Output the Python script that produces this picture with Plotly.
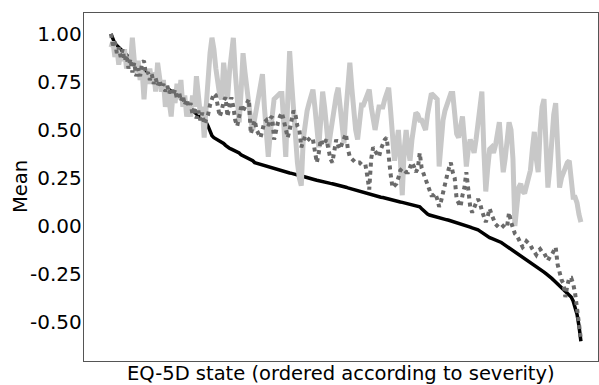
import plotly.graph_objects as go

# EQ-5D states ordered by severity (index 1..243)
states = list(range(1, 244))

black_mean = [
    1.00, 0.97, 0.95, 0.94, 0.93, 0.92, 0.91, 0.90, 0.89, 0.88,
    0.87, 0.86, 0.85, 0.84, 0.83, 0.82, 0.81, 0.80, 0.79, 0.78,
    0.775, 0.77, 0.76, 0.755, 0.75, 0.74, 0.735, 0.73, 0.72, 0.715,
    0.71, 0.70, 0.695, 0.69, 0.68, 0.675, 0.67, 0.66, 0.65, 0.64,
    0.63, 0.62, 0.60, 0.59, 0.58, 0.575, 0.57, 0.56, 0.55, 0.54,
    0.52, 0.49, 0.47, 0.46, 0.455, 0.45, 0.445, 0.44, 0.43, 0.42,
    0.41, 0.405, 0.40, 0.395, 0.39, 0.385, 0.38, 0.37, 0.365, 0.36,
    0.355, 0.35, 0.345, 0.34, 0.33, 0.327, 0.324, 0.32, 0.316, 0.312,
    0.31, 0.306, 0.302, 0.30, 0.298, 0.295, 0.292, 0.29, 0.286, 0.283,
    0.28, 0.278, 0.276, 0.274, 0.272, 0.27, 0.267, 0.264, 0.261, 0.258,
    0.255, 0.253, 0.25, 0.247, 0.244, 0.241, 0.238, 0.235, 0.233, 0.23,
    0.228, 0.226, 0.224, 0.222, 0.22, 0.218, 0.216, 0.214, 0.212, 0.21,
    0.206, 0.202, 0.198, 0.195, 0.191, 0.188, 0.185, 0.182, 0.179, 0.176,
    0.173, 0.171, 0.168, 0.166, 0.163, 0.16, 0.158, 0.155, 0.152, 0.15,
    0.148, 0.145, 0.143, 0.14, 0.138, 0.135, 0.133, 0.13, 0.128, 0.125,
    0.123, 0.12, 0.118, 0.115, 0.113, 0.11, 0.108, 0.105, 0.103, 0.10,
    0.09, 0.08, 0.07, 0.062, 0.057, 0.054, 0.051, 0.048, 0.044, 0.04,
    0.038, 0.036, 0.034, 0.032, 0.03, 0.027, 0.025, 0.022, 0.019, 0.016,
    0.013, 0.01, 0.006, 0.002, -0.002, -0.006, -0.01, -0.013, -0.017, -0.02,
    -0.027, -0.034, -0.042, -0.05, -0.057, -0.061, -0.065, -0.069, -0.073, -0.077,
    -0.08, -0.086, -0.093, -0.1, -0.106, -0.112, -0.118, -0.124, -0.13, -0.138,
    -0.145, -0.152, -0.16, -0.168, -0.176, -0.183, -0.19, -0.197, -0.204, -0.212,
    -0.219, -0.226, -0.233, -0.24, -0.248, -0.255, -0.264, -0.273, -0.283, -0.292,
    -0.302, -0.311, -0.32, -0.33, -0.34, -0.35, -0.36, -0.37, -0.39, -0.42,
    -0.46, -0.52, -0.60,
]

dark_mean = [
    1.0, 0.94, 0.96, 0.90, 0.93, 0.88, 0.92, 0.86, 0.89, 0.82,
    0.87, 0.80, 0.85, 0.78, 0.82, 0.78, 0.85, 0.86, 0.79, 0.80,
    0.76, 0.79, 0.74, 0.77, 0.73, 0.76, 0.72, 0.74, 0.70, 0.73,
    0.69, 0.72, 0.68, 0.71, 0.66, 0.70, 0.65, 0.68, 0.63, 0.66,
    0.62, 0.64, 0.58, 0.62, 0.56, 0.60, 0.55, 0.59, 0.53, 0.56,
    0.58, 0.63, 0.66, 0.69, 0.68, 0.62, 0.57, 0.60, 0.65, 0.67,
    0.57, 0.62, 0.67, 0.62, 0.55, 0.52, 0.58, 0.62, 0.60, 0.62,
    0.64, 0.66, 0.48, 0.52, 0.55, 0.50, 0.48, 0.46, 0.50, 0.54,
    0.55, 0.52, 0.56, 0.57, 0.45, 0.50, 0.54, 0.57, 0.59, 0.55,
    0.50, 0.46, 0.50, 0.55, 0.60, 0.58, 0.52, 0.50, 0.41, 0.44,
    0.47, 0.46, 0.45, 0.44, 0.45, 0.40, 0.33, 0.38, 0.45, 0.42,
    0.44, 0.45, 0.40, 0.35, 0.33, 0.38, 0.45, 0.42, 0.40, 0.43,
    0.46, 0.48, 0.40, 0.36, 0.35, 0.34, 0.33, 0.33, 0.33, 0.32,
    0.32, 0.32, 0.26, 0.19, 0.35, 0.41, 0.39, 0.37, 0.36, 0.40,
    0.43, 0.45, 0.46, 0.35, 0.27, 0.20, 0.21, 0.22, 0.25, 0.29,
    0.30, 0.29, 0.28, 0.28, 0.30, 0.33, 0.31, 0.28, 0.30, 0.38,
    0.30, 0.27, 0.24, 0.22, 0.19, 0.16, 0.16, 0.17, 0.14, 0.10,
    0.13, 0.18, 0.22, 0.26, 0.30, 0.33, 0.28, 0.25, 0.14, 0.12,
    0.10, 0.16, 0.20, 0.28, 0.17, 0.10, 0.07, 0.10, 0.12, 0.14,
    0.12, 0.08, 0.05, 0.02, 0.05, 0.09, 0.06, 0.03, 0.01, 0.00,
    -0.01, -0.01, 0.00, 0.01, 0.00, 0.07, 0.02, -0.02, -0.04, -0.05,
    -0.07, -0.09, -0.11, -0.10, -0.08, -0.09, -0.10, -0.12, -0.14, -0.15,
    -0.13, -0.12, -0.135, -0.14, -0.16, -0.18, -0.16, -0.15, -0.13, -0.11,
    -0.20, -0.25, -0.28, -0.30, -0.37, -0.31, -0.27, -0.27, -0.30, -0.35,
    -0.44, -0.52, -0.59,
]

light_mean = [
    0.93, 0.96, 0.88, 0.93, 0.84, 0.90, 0.86, 0.92, 0.82, 0.88,
    0.84, 0.98, 0.86, 0.80, 0.86, 0.76, 0.82, 0.66, 0.80, 0.74,
    0.82, 0.74, 0.80, 0.70, 0.85, 0.78, 0.70, 0.76, 0.62, 0.72,
    0.64, 0.57, 0.70, 0.64, 0.74, 0.66, 0.76, 0.62, 0.68, 0.57,
    0.64, 0.57, 0.68, 0.62, 0.78, 0.70, 0.58, 0.62, 0.46, 0.62,
    0.80, 0.90, 0.98, 0.92, 0.82, 0.74, 0.68, 0.66, 0.85, 0.76,
    0.66, 0.80, 0.90, 0.98, 0.80, 0.66, 0.54, 0.70, 0.90, 0.80,
    0.70, 0.62, 0.55, 0.50, 0.56, 0.62, 0.68, 0.74, 0.79, 0.62,
    0.48, 0.36, 0.48, 0.58, 0.66, 0.67, 0.68, 0.69, 0.69, 0.52,
    0.36, 0.65, 0.91, 0.75, 0.60, 0.46, 0.33, 0.25, 0.21, 0.45,
    0.55, 0.60, 0.64, 0.68, 0.71, 0.62, 0.52, 0.41, 0.55, 0.70,
    0.62, 0.50, 0.41, 0.48, 0.56, 0.62, 0.68, 0.72, 0.60, 0.50,
    0.43, 0.60, 0.75, 0.85, 0.72, 0.60, 0.50, 0.45, 0.55, 0.63,
    0.63, 0.66, 0.70, 0.71, 0.62, 0.55, 0.50, 0.56, 0.62, 0.62,
    0.62, 0.66, 0.70, 0.72, 0.60, 0.47, 0.34, 0.42, 0.50, 0.35,
    0.16, 0.40, 0.50, 0.40, 0.34, 0.45, 0.55, 0.59, 0.58, 0.55,
    0.55, 0.52, 0.50, 0.58, 0.64, 0.69, 0.68, 0.67, 0.66, 0.31,
    0.45, 0.55, 0.60, 0.63, 0.66, 0.69, 0.69, 0.58, 0.48, 0.46,
    0.52, 0.57, 0.45, 0.31, 0.40, 0.45, 0.42, 0.38, 0.45, 0.55,
    0.65, 0.70, 0.40, 0.18, 0.30, 0.40, 0.41, 0.38, 0.42, 0.48,
    0.54, 0.40, 0.28, 0.35, 0.45, 0.54, 0.50, 0.35, 0.00, 0.10,
    0.20, 0.22, 0.18, 0.17, 0.22, 0.27, 0.29, 0.40, 0.49, 0.35,
    0.28, 0.50, 0.62, 0.66, 0.40, 0.20, 0.30, 0.45, 0.58, 0.64,
    0.45, 0.20, 0.25, 0.28, 0.30, 0.33, 0.34, 0.25, 0.15, 0.15,
    0.12, 0.06, 0.02,
]

y_tick_vals = [1.0, 0.75, 0.5, 0.25, 0.0, -0.25, -0.5]
y_tick_text = ["1.00", "0.75", "0.50", "0.25", "0.00", "-0.25", "-0.50"]

x_title = "EQ-5D state (ordered according to severity)"
y_title = "Mean"

FONT = "DejaVu Sans, Liberation Sans, Arial, sans-serif"

fig = go.Figure()
fig.add_trace(go.Scatter(x=states, y=black_mean, mode="lines",
                         line=dict(color="#000000", width=3.5), hoverinfo="skip"))
fig.add_trace(go.Scatter(x=states, y=light_mean, mode="lines",
                         line=dict(color="#c8c8c8", width=5), hoverinfo="skip"))
fig.add_trace(go.Scatter(x=states, y=dark_mean, mode="lines",
                         line=dict(color="#6a6a6a", width=4, dash="dot"), hoverinfo="skip"))

fig.update_layout(
    width=599, height=385,
    margin=dict(l=84, r=1, t=13, b=24),
    paper_bgcolor="white", plot_bgcolor="white",
    showlegend=False,
    font=dict(family=FONT, color="#000000"),
    annotations=[
        dict(text=x_title, xref="paper", yref="paper", x=0.5, y=-0.035,
             xanchor="center", yanchor="middle", showarrow=False,
             font=dict(size=19.5)),
        dict(text=y_title, xref="paper", yref="paper", x=-0.1245, y=0.5,
             xanchor="center", yanchor="middle", showarrow=False,
             textangle=-90, font=dict(size=19.5)),
    ],
)
fig.update_xaxes(range=[-12.9, 251.8], showgrid=False, zeroline=False,
                 showticklabels=False, ticks="", showline=True, mirror=True,
                 linecolor="#555555", linewidth=1.2)
fig.update_yaxes(range=[-0.703, 1.109], showgrid=False, zeroline=False,
                 tickvals=y_tick_vals, ticktext=y_tick_text, ticks="",
                 ticklabelstandoff=-3,
                 tickfont=dict(size=20), showline=True, mirror=True,
                 linecolor="#555555", linewidth=1.2)

fig.write_html("out.html", config={"displayModeBar": False, "staticPlot": True},
               post_script="document.body.style.margin='0px';")
